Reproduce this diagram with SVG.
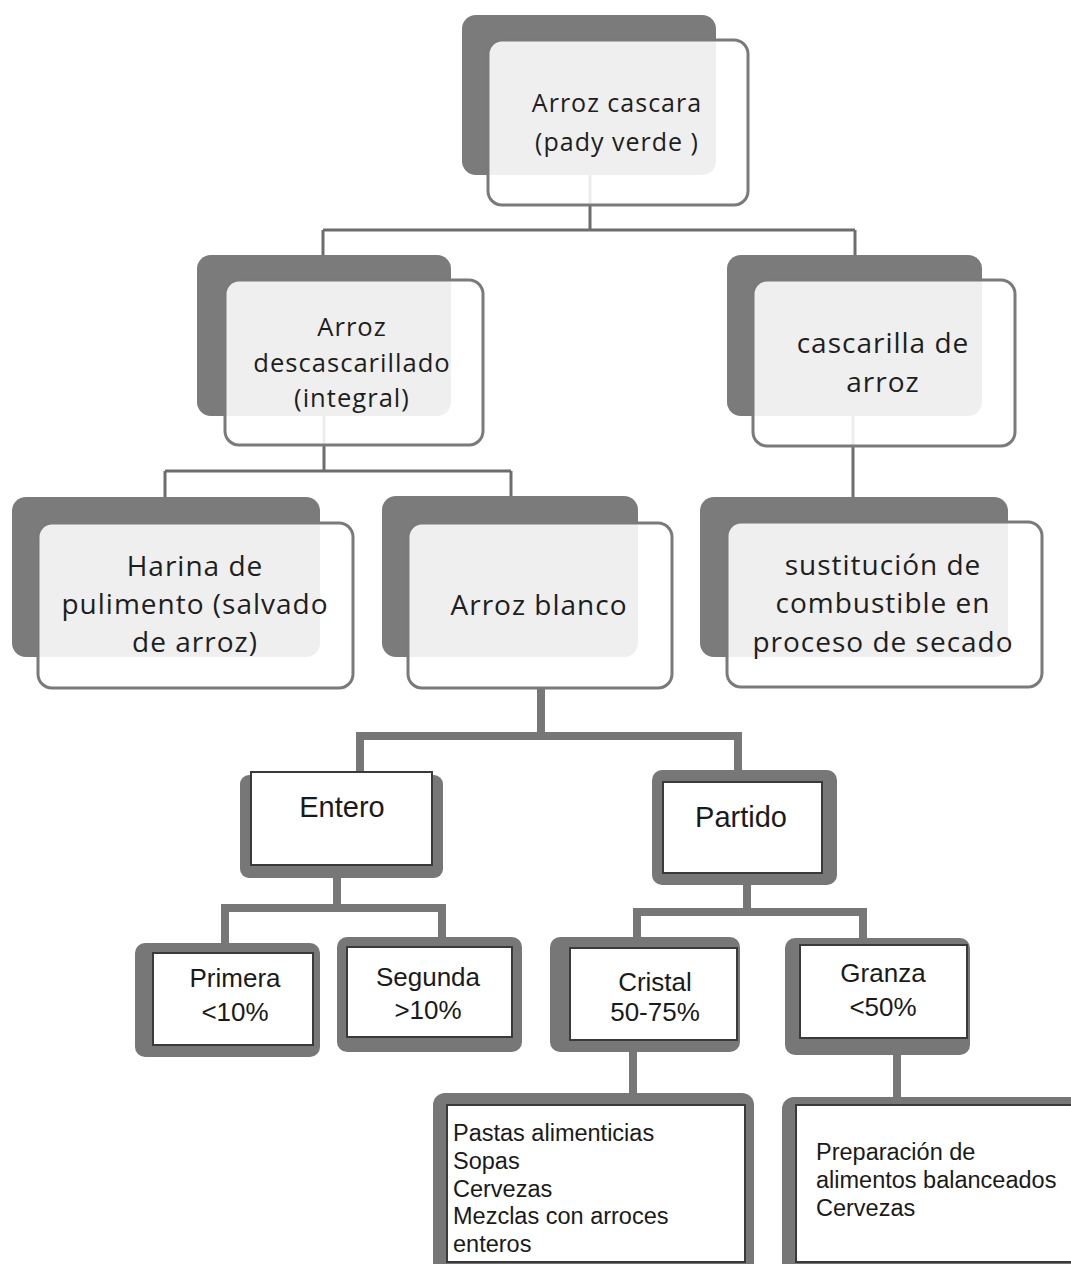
<svg xmlns="http://www.w3.org/2000/svg" width="1071" height="1264" viewBox="0 0 1071 1264">
<style>
.sh{fill:#7b7b7b}
.fr{fill:#fff;fill-opacity:0.88;stroke:#7a7a7a;stroke-width:3}
.t1{font-family:"Open Sans","Noto Sans",sans-serif;fill:#1e1e1e;text-anchor:middle;letter-spacing:1px}
.thin{stroke:#6d6d6d;stroke-width:3;fill:none}
.thick{stroke:#777;stroke-width:8;fill:none;stroke-linejoin:miter}
.og{fill:#777}
.in{fill:#fff;stroke:#3a3a3a;stroke-width:2}
.t2{font-family:"Liberation Sans",Arial,sans-serif;fill:#1a1a1a}
.c{text-anchor:middle}
</style>
<rect width="1071" height="1264" fill="#fff"/>
<g id="connectors">
<path class="thin" d="M590,120V230M323,230H855M323,230V255M855,230V255"/>
<path class="thin" d="M324,360V471M165,471H511M165,471V497M511,471V496"/>
<path class="thin" d="M853,360V497"/>
<path class="thick" d="M541,688V736M360,736H738M360,732V775M738,732V770"/>
<path class="thick" d="M337,878V908M225,908H442M225,904V943M442,904V937"/>
<path class="thick" d="M747,885V912M637,912H863M637,908V937M863,908V938"/>
<path class="thick" d="M633,1052V1093M897,1055V1097"/>
</g>
<g id="n-top">
<rect class="sh" x="462" y="15" width="254" height="160" rx="14"/>
<rect class="fr" x="488" y="40" width="260" height="165" rx="14"/>
<text class="t1" font-size="25"><tspan x="617" y="112">Arroz cascara</tspan><tspan x="617" y="151">(pady verde )</tspan></text>
</g>
<g id="n-descascarillado">
<rect class="sh" x="197" y="255" width="254" height="161" rx="14"/>
<rect class="fr" x="225" y="280" width="258" height="165" rx="14"/>
<text class="t1" font-size="25.6"><tspan x="352" y="336">Arroz</tspan><tspan x="352" y="372">descascarillado</tspan><tspan x="352" y="407">(integral)</tspan></text>
</g>
<g id="n-cascarilla">
<rect class="sh" x="727" y="255" width="255" height="161" rx="14"/>
<rect class="fr" x="753" y="280" width="262" height="166" rx="14"/>
<text class="t1" font-size="28"><tspan x="883" y="353">cascarilla de</tspan><tspan x="883" y="392">arroz</tspan></text>
</g>
<g id="n-harina">
<rect class="sh" x="12" y="497" width="308" height="160" rx="14"/>
<rect class="fr" x="38" y="523" width="315" height="165" rx="14"/>
<text class="t1" font-size="28"><tspan x="195" y="576">Harina de</tspan><tspan x="195" y="614">pulimento (salvado</tspan><tspan x="195" y="652">de arroz)</tspan></text>
</g>
<g id="n-blanco">
<rect class="sh" x="382" y="496" width="256" height="161" rx="14"/>
<rect class="fr" x="408" y="523" width="264" height="165" rx="14"/>
<text class="t1" font-size="28" x="539" y="615">Arroz blanco</text>
</g>
<g id="n-sustitucion">
<rect class="sh" x="700" y="497" width="308" height="160" rx="14"/>
<rect class="fr" x="727" y="522" width="315" height="165" rx="14"/>
<text class="t1" font-size="28"><tspan x="883" y="575">sustitución de</tspan><tspan x="883" y="613">combustible en</tspan><tspan x="883" y="652">proceso de secado</tspan></text>
</g>
<g id="n-entero">
<rect class="og" x="240" y="775" width="203" height="103" rx="9"/>
<rect class="in" x="251" y="772" width="181" height="93"/>
<text class="t2 c" font-size="29" x="342" y="817">Entero</text>
</g>
<g id="n-partido">
<rect class="og" x="652" y="770" width="185" height="115" rx="10"/>
<rect class="in" x="663" y="782" width="159" height="91"/>
<text class="t2 c" font-size="29" x="741" y="827">Partido</text>
</g>
<g id="n-primera">
<rect class="og" x="135" y="943" width="185" height="114" rx="10"/>
<rect class="in" x="153" y="953" width="160" height="92"/>
<text class="t2 c" font-size="26"><tspan x="235" y="987">Primera</tspan><tspan x="235" y="1021">&lt;10%</tspan></text>
</g>
<g id="n-segunda">
<rect class="og" x="337" y="937" width="185" height="115" rx="10"/>
<rect class="in" x="347" y="947" width="165" height="90"/>
<text class="t2 c" font-size="26"><tspan x="428" y="986">Segunda</tspan><tspan x="428" y="1019">&gt;10%</tspan></text>
</g>
<g id="n-cristal">
<rect class="og" x="550" y="937" width="190" height="115" rx="10"/>
<rect class="in" x="570" y="948" width="167" height="92"/>
<text class="t2 c" font-size="26"><tspan x="655" y="991">Cristal</tspan><tspan x="655" y="1021">50-75%</tspan></text>
</g>
<g id="n-granza">
<rect class="og" x="785" y="938" width="185" height="117" rx="10"/>
<rect class="in" x="800" y="945" width="167" height="93"/>
<text class="t2 c" font-size="26"><tspan x="883" y="982">Granza</tspan><tspan x="883" y="1016">&lt;50%</tspan></text>
</g>
<g id="n-usos-cristal">
<rect class="og" x="433" y="1093" width="321" height="185" rx="12"/>
<rect class="in" x="447" y="1105" width="298" height="157"/>
<text class="t2" font-size="23.5"><tspan x="453" y="1141">Pastas alimenticias</tspan><tspan x="453" y="1169">Sopas</tspan><tspan x="453" y="1197">Cervezas</tspan><tspan x="453" y="1224">Mezclas con arroces</tspan><tspan x="453" y="1252">enteros</tspan></text>
</g>
<g id="n-usos-granza">
<rect class="og" x="782" y="1097" width="310" height="180" rx="12"/>
<rect class="in" x="796" y="1105" width="290" height="157"/>
<text class="t2" font-size="23.5"><tspan x="816" y="1160">Preparación de</tspan><tspan x="816" y="1188">alimentos balanceados</tspan><tspan x="816" y="1216">Cervezas</tspan></text>
</g>
</svg>
